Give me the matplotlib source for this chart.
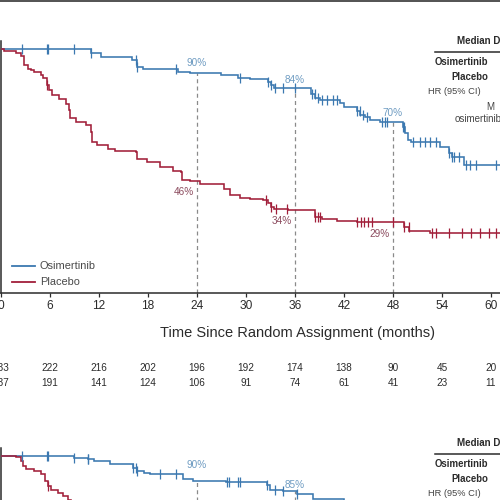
import matplotlib
matplotlib.use("Agg")
import matplotlib.pyplot as plt
from matplotlib.lines import Line2D
from matplotlib import transforms as mtransforms

# ---------------- data ----------------
months = [0, 6, 12, 18, 24, 30, 36, 42, 48, 54, 60]

# Upper panel (stage II-IIIA): KM steps (time in months, survival % after the step)
up_osi_t = [0, 11.0, 12.3, 16.0, 16.6, 17.4, 21.7, 23.2, 27.0, 29.0, 30.5, 32.7, 33.0, 33.4,
            38.0, 38.5, 39.0, 41.5, 42.0, 43.6, 44.0, 44.6, 45.2, 46.4, 49.2, 49.5, 49.8,
            50.2, 53.7, 54.9, 55.2, 56.7, 63.0]
up_osi_s = [100, 98.2, 96.8, 95.5, 92.8, 91.8, 90.6, 90.0, 89.2, 88.3, 87.6, 86.5, 85.2, 84.0,
            81.5, 80.0, 79.0, 77.8, 76.3, 74.5, 73.0, 72.0, 70.8, 70.0, 68.0, 65.4, 62.6,
            61.8, 59.8, 57.5, 55.7, 52.5, 52.5]
up_osi_cens = [2.6, 5.6, 5.8, 8.9, 11.0, 16.5, 16.6, 21.4, 29.3, 32.7, 33.1, 33.6, 34.5, 36.0,
               38.1, 38.4, 38.8, 39.3, 39.9, 40.6, 41.2, 43.6, 43.9, 44.3, 44.8, 46.6, 47.0,
               47.3, 49.2, 49.4, 50.4, 51.3, 51.9, 52.5, 53.3, 54.9, 55.2, 55.5, 56.1, 57.0,
               57.4, 58.2, 60.6]

up_pla_t = [0, 0.4, 1.8, 2.4, 2.8, 3.3, 3.7, 4.0, 4.9, 5.2, 5.6, 5.9, 6.3, 7.1, 7.9, 8.3, 8.5,
            9.2, 10.4, 11.0, 11.2, 11.8, 13.1, 14.0, 16.5, 16.7, 17.9, 19.5, 21.1, 22.0, 22.2,
            23.2, 24.4, 27.3, 28.1, 29.3, 30.5, 32.1, 32.7, 33.0, 33.4, 35.2, 38.4, 39.3,
            41.1, 43.6, 49.4, 50.0, 52.5, 63.0]
up_pla_s = [100, 99.3, 98.2, 97.0, 93.4, 92.0, 91.4, 90.7, 89.3, 88.0, 85.2, 83.1, 81.0, 79.7,
            77.6, 74.9, 71.6, 70.0, 68.7, 66.0, 61.9, 60.5, 59.1, 58.4, 57.7, 55.0, 53.6, 51.6,
            50.2, 49.5, 46.5, 46.0, 44.7, 42.8, 40.0, 39.1, 38.6, 38.0, 36.7, 35.1, 34.5, 34.0,
            31.0, 30.3, 29.6, 29.0, 27.0, 25.5, 24.6, 24.6]
up_pla_cens = [5.6, 32.4, 33.1, 33.7, 35.0, 38.4, 38.8, 39.0, 43.6, 44.1, 44.5, 44.9, 45.4,
               48.0, 49.4, 49.9, 52.8, 53.3, 54.9, 56.5, 57.5, 58.6, 59.8, 60.6]

up_lbl_t = [24, 36, 48]
up_lbl_osi = [90, 84, 70]
up_lbl_pla = [46, 34, 29]

risk_osi = ["233", "222", "216", "202", "196", "192", "174", "138", "90", "45", "20"]
risk_pla = ["237", "191", "141", "124", "106", "91", "74", "61", "41", "23", "11"]

# Lower panel (overall population), only its top part is visible
lo_osi_t = [0, 8.9, 10.6, 11.4, 13.4, 16.2, 16.7, 17.5, 18.3, 22.3, 23.5, 27.5, 32.6, 32.9,
            34.5, 36.2, 38.2, 42.0, 48.0]
lo_osi_s = [100, 99.3, 98.6, 97.9, 96.6, 95.3, 93.9, 93.2, 92.6, 90.5, 89.8, 89.2, 88.0, 86.1,
            85.5, 84.4, 82.3, 79.0, 73.0]
lo_osi_cens = [2.6, 5.6, 5.7, 8.9, 10.6, 10.7, 16.2, 16.5, 16.7, 19.5, 21.4, 27.7, 27.9, 29.0,
               29.3, 32.6, 33.6, 34.5, 36.2]

lo_pla_t = [0, 1.8, 2.4, 2.7, 3.0, 4.0, 4.9, 5.4, 5.7, 6.1, 7.0, 7.6, 8.2, 8.6, 9.5, 11.2,
            13.0, 17.0, 22.0, 30.0]
lo_pla_s = [100, 99.7, 98.1, 96.0, 94.7, 94.0, 92.6, 89.8, 87.8, 86.1, 85.0, 83.6, 82.0, 76.0,
            71.0, 64.0, 60.0, 55.0, 48.0, 40.0]
lo_pla_cens = [5.7]

lo_lbl_t = [24, 36]
lo_lbl_osi = [90, 85]

series_names = ["Osimertinib", "Placebo"]

# ---------------- styling ----------------
BLUE = "#3b78b0"
RED = "#a11f3a"
BLUE_TXT = "#6f9cc2"
RED_TXT = "#8c4c5f"
DARK = "#2b2b2b"

plt.rcParams["font.family"] = ["Liberation Sans", "DejaVu Sans"]

W, H = 500, 500
fig = plt.figure(figsize=(5, 5), dpi=100)
fig.patch.set_facecolor("white")


def fx(px):
    return px / W


def fy(py):
    return 1 - py / H


XMAX = 66
YTOP = 103.3
AX_W = 539
AX_H = 252


def surv_at(ts, ss, t):
    v = ss[0]
    for a, b in zip(ts, ss):
        if a <= t:
            v = b
    return v


def draw_km(ax, t, s, cens, color):
    ax.step(t, s, where="post", color=color, lw=1.15, solid_joinstyle="miter", zorder=3)
    cy = [surv_at(t, s, c) for c in cens]
    ax.plot(cens, cy, ls="none", marker="|", ms=6.5, mew=0.9, color=color, zorder=4)


def setup_axes(top_px):
    ax = fig.add_axes([fx(1), fy(top_px + AX_H), AX_W / W, AX_H / H])
    ax.set_xlim(0, XMAX)
    ax.set_ylim(0, YTOP)
    for sp in ["top", "right"]:
        ax.spines[sp].set_visible(False)
    for sp in ["left", "bottom"]:
        ax.spines[sp].set_color(DARK)
        ax.spines[sp].set_linewidth(1.1)
    ax.set_yticks([])
    ax.set_xticks(months)
    ax.set_xticklabels([str(m) for m in months])
    ax.tick_params(axis="x", direction="out", length=3.2, width=0.9, color=DARK,
                   pad=1.5, labelsize=8.6, labelcolor=DARK)
    ax.patch.set_alpha(0)
    return ax


# ---------------- upper panel ----------------
ax1 = setup_axes(41)
draw_km(ax1, up_osi_t, up_osi_s, up_osi_cens, BLUE)
draw_km(ax1, up_pla_t, up_pla_s, up_pla_cens, RED)
for t, vo, vp, dy in zip(up_lbl_t, up_lbl_osi, up_lbl_pla, [4, 2, 3]):
    ax1.plot([t, t], [0, vo], ls=(0, (3.2, 2.6)), color="#8a8a8a", lw=0.9, zorder=2)
    ax1.annotate(f"{vo}%", (t, vo), xytext=(0, dy), textcoords="offset points",
                 ha="center", va="bottom", fontsize=7.2, color=BLUE_TXT)
    ax1.annotate(f"{vp}%", (t, vp), xytext=(-2.5, -4.5), textcoords="offset points",
                 ha="right", va="top", fontsize=7.2, color=RED_TXT)

fig.text(fx(297), fy(333), "Time Since Random Assignment (months)",
         fontsize=10.5, color=DARK, ha="center", va="center")

trans1 = mtransforms.blended_transform_factory(ax1.transData, fig.transFigure)
for m, ro, rp in zip(months, risk_osi, risk_pla):
    ax1.text(m, fy(368), ro, transform=trans1, ha="center", va="center", fontsize=7.2,
             color=DARK)
    ax1.text(m, fy(383), rp, transform=trans1, ha="center", va="center", fontsize=7.2,
             color=DARK)

# legend (upper panel)
for name, col, py in zip(series_names, [BLUE, RED], [266, 282]):
    fig.add_artist(Line2D([fx(12), fx(35)], [fy(py), fy(py)], color=col, lw=1.3))
    fig.text(fx(40), fy(py), name, fontsize=7.9, color="#4a4a4a", ha="left", va="center")


def table(top):
    fig.text(fx(457), fy(top), "Median D", fontsize=7.0, weight="bold", color=DARK,
             ha="left", va="center")
    fig.add_artist(Line2D([fx(435), fx(500)], [fy(top + 10.5), fy(top + 10.5)],
                          color=DARK, lw=1.1))
    fig.text(fx(488), fy(top + 21), "Osimertinib", fontsize=6.9, weight="bold",
             color=DARK, ha="right", va="center")
    fig.text(fx(488), fy(top + 36), "Placebo", fontsize=6.9, weight="bold", color=DARK,
             ha="right", va="center")
    fig.text(fx(428), fy(top + 50.5), "HR (95% CI)", fontsize=6.7, color="#444444",
             ha="left", va="center")


table(41)
fig.text(fx(486), fy(107), "M", fontsize=7.0, color="#444444", ha="left", va="center")
fig.text(fx(455), fy(119), "osimertinib", fontsize=7.0, color="#444444", ha="left",
         va="center")

# ---------------- lower panel ----------------
ax2 = setup_axes(448)
draw_km(ax2, lo_osi_t, lo_osi_s, lo_osi_cens, BLUE)
draw_km(ax2, lo_pla_t, lo_pla_s, lo_pla_cens, RED)
for t, vo, dy in zip(lo_lbl_t, lo_lbl_osi, [8, 1]):
    sv = surv_at(lo_osi_t, lo_osi_s, t)
    ax2.plot([t, t], [0, sv], ls=(0, (3.2, 2.6)), color="#8a8a8a", lw=0.9, zorder=2)
    ax2.annotate(f"{vo}%", (t, sv), xytext=(0, dy), textcoords="offset points",
                 ha="center", va="bottom", fontsize=7.2, color=BLUE_TXT)
table(443)

# top border line
fig.add_artist(Line2D([0, 1], [fy(0.6), fy(0.6)], color="#444444", lw=1.3))

fig.savefig("out.png", dpi=100, facecolor="white")
